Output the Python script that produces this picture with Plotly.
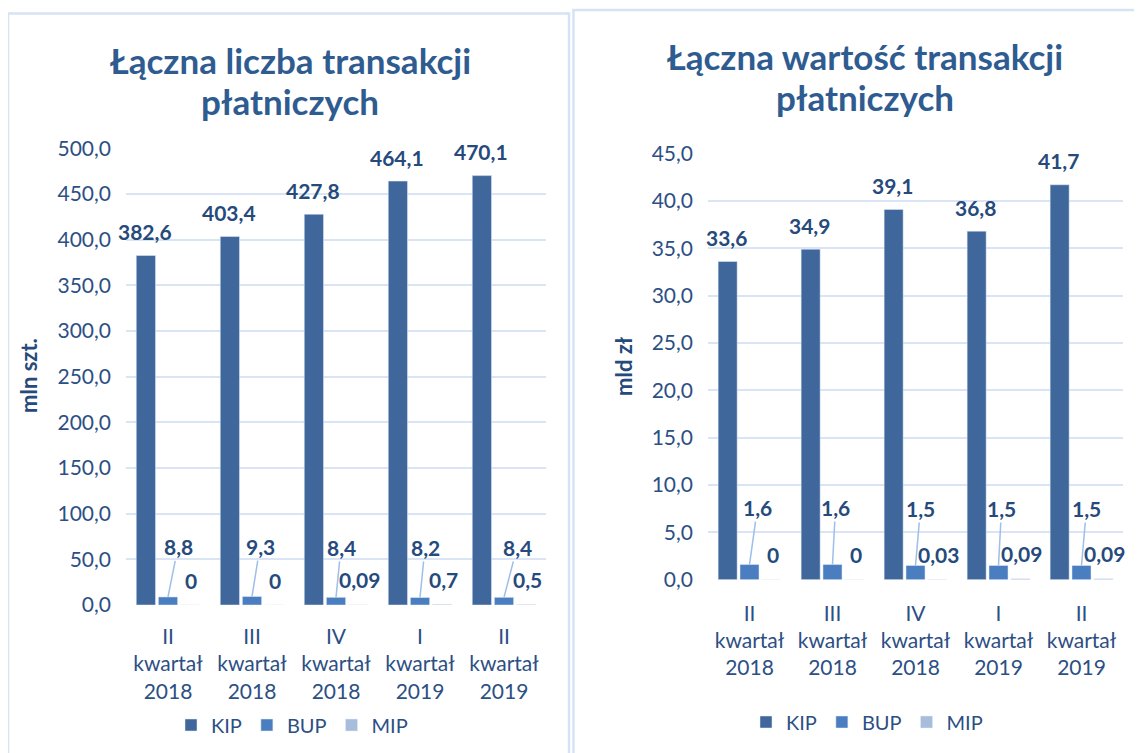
import plotly.graph_objects as go

# quarters on the x axis
quarters = ["II<br>kwartał<br>2018", "III<br>kwartał<br>2018", "IV<br>kwartał<br>2018",
            "I<br>kwartał<br>2019", "II<br>kwartał<br>2019"]

# left chart: number of transactions (mln szt.)
count_kip = [382.6, 403.4, 427.8, 464.1, 470.1]
count_bup = [8.8, 9.3, 8.4, 8.2, 8.4]
count_mip = [0, 0, 0.09, 0.7, 0.5]

# right chart: value of transactions (mld zł)
value_kip = [33.6, 34.9, 39.1, 36.8, 41.7]
value_bup = [1.6, 1.6, 1.5, 1.5, 1.5]
value_mip = [0, 0, 0.03, 0.09, 0.09]

W, H = 1142, 753
OFF = 8  # page body margin
FONT = "Lato"
KIP_COL = "#40679B"
BUP_COL = "#4A7EC1"
MIP_COL = "#A8BCDB"
TEXT_COL = "#264A7C"
TICK_COL = "#2C4F84"
TITLE_COL = "#2F5C90"
GRID_COL = "#D9E4F4"
LEADER_COL = "#9DBFE8"


def px(x):
    return (x - OFF) / W


def py(y):
    return 1 - (y - OFF) / H


def fmt(v, nd=1):
    return f"{v:.{nd}f}".replace(".", ",")


def fmt_small(v):
    if v == 0:
        return "0"
    return ("%g" % v).replace(".", ",")


fig = go.Figure()

series = [("KIP", KIP_COL), ("BUP", BUP_COL), ("MIP", MIP_COL)]
for (name, col), ys in zip(series, [count_kip, count_bup, count_mip]):
    fig.add_trace(go.Bar(x=quarters, y=ys, name=name, marker_color=col,
                         xaxis="x", yaxis="y", legend="legend"))
for (name, col), ys in zip(series, [value_kip, value_bup, value_mip]):
    fig.add_trace(go.Bar(x=quarters, y=ys, name=name, marker_color=col,
                         xaxis="x2", yaxis="y2", legend="legend2"))

lab_font = dict(family=FONT, size=21, color=TEXT_COL)
annotations = []


def add_labels(xref, yref, kip, bup, mip, bup_dx, bup_dy, kip_nd=1):
    for i, q in enumerate(quarters):
        # KIP value above the bar
        annotations.append(dict(x=q, y=kip[i], xref=xref, yref=yref, text="<b>%s</b>" % fmt(kip[i], kip_nd),
                                showarrow=False, xshift=-23, yshift=24, font=lab_font))
        # BUP value with leader line
        annotations.append(dict(x=q, y=bup[i], xref=xref, yref=yref, text="<b>%s</b>" % fmt(bup[i]),
                                showarrow=True, arrowhead=0, arrowwidth=1.5, arrowcolor=LEADER_COL,
                                ax=bup_dx[i], ay=bup_dy, standoff=0, font=lab_font))
        # MIP value
        annotations.append(dict(x=q, y=mip[i], xref=xref, yref=yref, text="<b>%s</b>" % fmt_small(mip[i]),
                                showarrow=False, xshift=23, yshift=25, font=lab_font))


add_labels("x", "y", count_kip, count_bup, count_mip, [10, 8, 5, 5, 13], -50)
add_labels("x2", "y2", value_kip, value_bup, value_mip, [8, 3, 5, 3, 5], -57)

# chart titles, one annotation per line
title_font = dict(family=FONT, size=35, color=TITLE_COL)
for txt, xc, yc in [("Łączna liczba transakcji", 290, 60), ("płatniczych", 290, 101),
                    ("Łączna wartość transakcji", 865, 56), ("płatniczych", 865, 97)]:
    annotations.append(dict(x=px(xc), y=py(yc), xref="paper", yref="paper", showarrow=False,
                            xanchor="center", yanchor="middle",
                            text="<b>%s</b>" % txt, font=title_font))

# y axis titles
ytitle_font = dict(family=FONT, size=22, color=TEXT_COL)
annotations.append(dict(x=px(28), y=py(376), xref="paper", yref="paper", showarrow=False,
                        xanchor="center", yanchor="middle",
                        text="<b>mln szt.</b>", textangle=-90, font=ytitle_font))
annotations.append(dict(x=px(623), y=py(367), xref="paper", yref="paper", showarrow=False,
                        xanchor="center", yanchor="middle",
                        text="<b>mld zł</b>", textangle=-90, font=ytitle_font))

# panel borders
shapes = [
    dict(type="rect", xref="paper", yref="paper", x0=px(8), x1=px(569), y0=-0.05, y1=py(13.5),
         line=dict(color="#D6E3F5", width=2.5)),
    dict(type="rect", xref="paper", yref="paper", x0=px(573.5), x1=1.05, y0=-0.05, y1=py(10),
         line=dict(color="#D6E3F5", width=2.5)),
]

tick_font = dict(family=FONT, size=21, color=TICK_COL)
xcommon = dict(type="category", range=[-0.5, 4.5], autorange=False, showgrid=False, zeroline=False,
               showline=False, ticks="", tickfont=tick_font, automargin=False)
ycommon = dict(showgrid=True, gridcolor=GRID_COL, gridwidth=2, zeroline=False, showline=False,
               tickfont=tick_font, tickformat=".1f", ticklabelstandoff=14, automargin=False)

legend_common = dict(orientation="h", xanchor="center", yanchor="middle",
                     font=dict(family=FONT, size=20, color=TICK_COL),
                     itemwidth=30, bgcolor="rgba(0,0,0,0)", traceorder="normal")

fig.update_layout(
    width=W, height=H,
    margin=dict(l=0, r=0, t=0, b=0, autoexpand=False),
    paper_bgcolor="white", plot_bgcolor="white",
    separators=", ",
    barmode="group", bargap=0.21, bargroupgap=0.13,
    font=dict(family=FONT, color=TICK_COL),
    xaxis=dict(domain=[px(126), px(546)], anchor="y", ticklabelstandoff=17, **xcommon),
    yaxis=dict(domain=[py(605), py(148.3)], anchor="x", range=[0, 500], dtick=50, **ycommon),
    xaxis2=dict(domain=[px(708), px(1123)], anchor="y2", ticklabelstandoff=19, **xcommon),
    yaxis2=dict(domain=[py(579.7), py(153.5)], anchor="x2", range=[0, 45], dtick=5, **ycommon),
    legend=dict(x=px(292), y=py(725), **legend_common),
    legend2=dict(x=px(867), y=py(722), **legend_common),
    annotations=annotations,
    shapes=shapes,
)

fig.write_html("out.html")
